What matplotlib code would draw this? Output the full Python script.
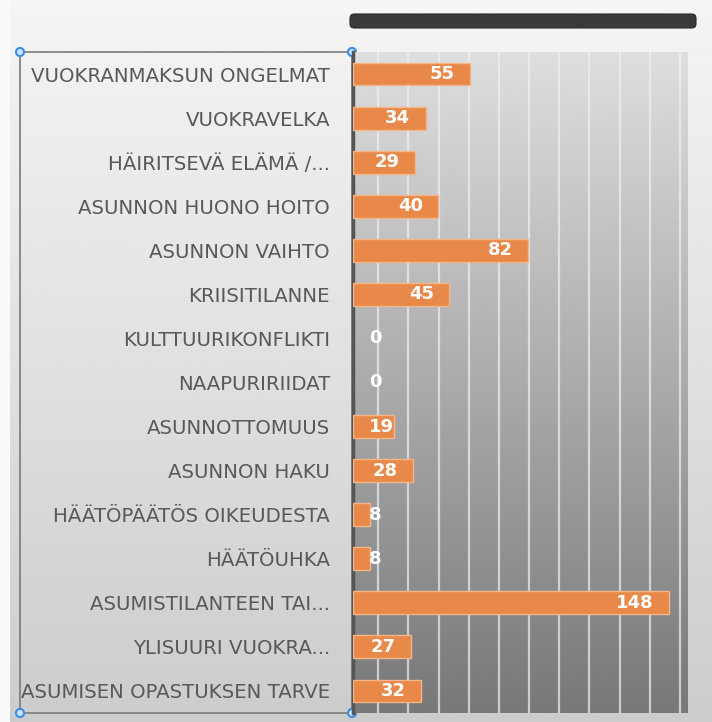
import matplotlib
matplotlib.use('Agg')
import matplotlib.pyplot as plt
import numpy as np
from matplotlib.patches import Rectangle, FancyBboxPatch, Circle

# data, top to bottom as in the picture
categories = [
    'VUOKRANMAKSUN ONGELMAT', 'VUOKRAVELKA', 'HÄIRITSEVÄ ELÄMÄ /...',
    'ASUNNON HUONO HOITO', 'ASUNNON VAIHTO', 'KRIISITILANNE',
    'KULTTUURIKONFLIKTI', 'NAAPURIRIIDAT', 'ASUNNOTTOMUUS',
    'ASUNNON HAKU', 'HÄÄTÖPÄÄTÖS OIKEUDESTA', 'HÄÄTÖUHKA',
    'ASUMISTILANTEEN TAI...', 'YLISUURI VUOKRA...', 'ASUMISEN OPASTUKSEN TARVE',
]
values = [55, 34, 29, 40, 82, 45, 0, 0, 19, 28, 8, 8, 148, 27, 32]

W, H = 712, 722
BAR = '#E8894A'
BAR_EDGE = '#F3B589'
LABEL_C = '#595959'

fig = plt.figure(figsize=(W / 100, H / 100), dpi=100)

# figure background: light gray vertical gradient, white strip at far left
bg = fig.add_axes([0, 0, 1, 1], zorder=-10)
grad = np.linspace(0.96, 0.80, 256).reshape(-1, 1)
bg.imshow(np.repeat(grad, 2, axis=1), cmap='gray', vmin=0, vmax=1,
          aspect='auto', extent=[0, 1, 0, 1], origin='upper')
bg.add_patch(Rectangle((0, 0), 10 / W, 1, color='#fafafa', lw=0))
bg.set_xlim(0, 1)
bg.set_ylim(0, 1)
bg.axis('off')

# dark blurred axis-title strip at the top
bg.add_patch(FancyBboxPatch((350 / W, 1 - 28 / H), 346 / W, 14 / H,
                            boxstyle='round,pad=0,rounding_size=0.006',
                            fc='#3a3a3a', ec='#2a2a2a', lw=0.8))

# plot area
x0, x1 = 353, 688
y_top, y_bot = 52, 713
ax = fig.add_axes([x0 / W, 1 - y_bot / H, (x1 - x0) / W, (y_bot - y_top) / H])
XMAX = 157
ax.set_xlim(0, XMAX)
n = len(categories)
ax.set_ylim(n - 0.5, -0.5)

pgrad = np.linspace(0.87, 0.47, 256).reshape(-1, 1)
ax.imshow(np.repeat(pgrad, 2, axis=1), cmap='gray', vmin=0, vmax=1,
          aspect='auto', extent=[0, XMAX, n - 0.5, -0.5], zorder=0)

# vertical gridlines
grid_x = 11.85 + 14.14 * np.arange(11)
for gx in grid_x:
    ax.axvline(gx, color='#f0f0f0', lw=1.6, alpha=0.7, zorder=1)

ypos = np.arange(n)
edges = [BAR_EDGE if v > 0 else 'none' for v in values]
ax.barh(ypos, values, height=0.52, color=BAR, edgecolor=edges,
        linewidth=1.0, zorder=3)

for y, v in zip(ypos, values):
    if v >= 25:
        ax.annotate(str(v), (v, y), xytext=(-11, 0), textcoords='offset points',
                    ha='right', va='center', color='white',
                    fontsize=13, fontweight='bold', zorder=4)
    else:
        # too short: Excel pushes the label to a minimum position
        ax.text(7.6, y, str(v), ha='left', va='center', color='white',
                fontsize=13, fontweight='bold', zorder=4)

ax.set_yticks(ypos)
ax.set_yticklabels(categories, fontsize=14.2, color=LABEL_C)
ax.tick_params(axis='y', length=0, pad=16.5)
ax.set_xticks([])
for s in ['top', 'right', 'bottom']:
    ax.spines[s].set_visible(False)
ax.spines['left'].set_color('#555555')
ax.spines['left'].set_linewidth(2.5)

# selection box around the category labels with handles
bg.add_patch(Rectangle((20 / W, 1 - y_bot / H), (352 - 20) / W, (y_bot - y_top) / H,
                       fill=False, ec='#7a7a7a', lw=1.2, zorder=5))
for hx, hy in [(20, y_top), (352, y_top), (20, y_bot), (352, y_bot)]:
    bg.add_patch(Circle((hx / W, 1 - hy / H), 4 / W, fc='#cfe4f7',
                        ec='#3a8ee6', lw=1.5, zorder=6))

fig.savefig('out.png', dpi=100)
